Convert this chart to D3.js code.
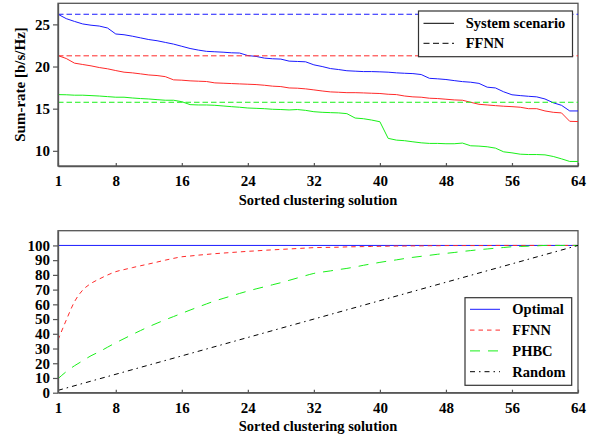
<!DOCTYPE html>
<html>
<head>
<meta charset="utf-8">
<script src="https://cdn.jsdelivr.net/npm/d3@7"></script>
<style>
html,body{margin:0;padding:0;background:#fff;}
svg text{font-family:"Liberation Serif","Times New Roman",serif;font-weight:bold;fill:#000;}
</style>
</head>
<body>
<svg id="chart" width="594" height="435"></svg>
<script>
// ---------- data ----------
const xTicks = [1, 8, 16, 24, 32, 40, 48, 56, 64];
const topYTicks = [10, 15, 20, 25];
const botYTicks = [0, 10, 20, 30, 40, 50, 60, 70, 80, 90, 100];

// Top panel: sum-rate per sorted clustering solution (index 1..64)
const optimalRate = [26.2,25.68,25.35,25.05,24.9,24.8,24.57,23.86,23.77,23.6,23.4,23.2,23.06,22.86,22.66,22.4,
  22.14,21.95,21.8,21.75,21.7,21.63,21.6,21.3,21.2,21.0,20.92,20.88,20.64,20.6,20.56,20.2,
  20.0,19.76,19.64,19.5,19.45,19.4,19.4,19.37,19.33,19.25,19.2,19.16,19.05,18.6,18.54,18.46,
  18.33,18.21,18.14,18.0,17.55,17.46,17.0,16.65,16.55,16.47,16.4,16.15,15.7,15.4,14.73,14.73];
const mediumRate = [21.3,20.95,20.4,20.24,20.08,19.88,19.73,19.52,19.33,19.25,19.13,19.0,18.93,18.8,18.42,18.38,
  18.3,18.26,18.22,18.06,18.02,17.98,17.94,17.9,17.86,17.78,17.67,17.62,17.46,17.43,17.35,17.23,
  17.1,16.99,16.95,16.9,16.9,16.87,16.83,16.8,16.71,16.67,16.5,16.4,16.36,16.24,16.2,16.12,
  16.04,16.0,15.76,15.52,15.44,15.36,15.29,15.24,15.17,15.0,15.0,14.73,14.57,14.5,13.5,13.47];
const lowRate = [16.67,16.65,16.6,16.6,16.55,16.5,16.43,16.36,16.36,16.27,16.2,16.15,16.07,16.0,16.0,15.83,
  15.48,15.44,15.44,15.4,15.32,15.24,15.17,15.08,15.04,15.0,14.93,14.9,14.85,14.9,14.8,14.64,
  14.57,14.53,14.5,14.41,13.89,13.81,13.65,13.45,11.48,11.27,11.2,11.07,10.95,10.88,10.88,10.84,
  10.84,10.92,10.6,10.56,10.48,10.32,9.88,9.76,9.6,9.56,9.56,9.52,9.33,9.05,8.74,8.74];
const ffnnRates = [26.2, 21.27, 15.76];   // blue, red, green FFNN levels

// Bottom panel: cumulative percentage
const optimalPct = [[1, 100], [64, 100]];
const ffnnPct = [35.8,49.3,61.8,69.7,74.2,77.2,79.9,82.2,83.6,84.9,86.2,87.4,88.7,90.0,91.2,92.3,
  92.8,93.4,93.9,94.4,94.8,95.2,95.6,96.0,96.3,96.7,97.0,97.3,97.6,97.9,98.2,98.5,
  98.6,98.7,98.8,99.0,99.1,99.2,99.3,99.4,99.5,99.6,99.6,99.7,99.7,99.8,99.8,99.9,
  99.9,99.9,99.9,99.9,99.9,100,100,100,100,100,100,100,100,100,100,100];
const phbcPct = [9.5,14.3,18.3,21.7,25.1,27.8,30.9,33.9,36.7,39.5,42.2,44.8,47.2,49.5,51.7,53.9,
  56.1,58.2,60.3,62.3,64.0,65.7,67.4,69.0,70.5,71.9,73.3,74.7,76.3,77.9,79.5,81.0,
  81.9,82.7,83.6,84.4,85.4,86.5,87.5,88.5,89.4,90.2,91.1,91.9,92.6,93.3,94.0,94.6,
  95.2,95.9,96.5,97.1,97.6,98.1,98.6,99.1,99.3,99.5,99.7,100,100,100,100,100];
const randomPct = [[1, 1.6], [16, 25], [32, 50], [48, 75], [64, 100]];

const topLegend = ["System scenario", "FFNN"];
const botLegend = ["Optimal", "FFNN", "PHBC", "Random"];

// ---------- drawing ----------
const svg = d3.select("#chart");
const X0 = 58, X1 = 578;
const x = d3.scaleLinear().domain([1, 64]).range([X0, X1]);
const yTop = d3.scaleLinear().domain([8.2, 27.5]).range([166, 3.3]);
const yBot = d3.scaleLinear().domain([0, 110]).range([392.7, 230.7]);

const BLUE = "#1a1aff", RED = "#ff2a2a", GREEN = "#19f019";
const frameCol = "#555";

function frame(y) {
  const [b, t] = y.range();
  svg.append("rect").attr("x", X0).attr("y", t).attr("width", X1 - X0).attr("height", b - t)
    .attr("fill", "none").attr("stroke", frameCol).attr("stroke-width", 1.3);
}
function axes(y, yticks) {
  const [b] = y.range();
  const gx = svg.append("g").attr("transform", `translate(0,${b})`)
    .call(d3.axisBottom(x).tickValues(xTicks).tickSizeInner(-3).tickSizeOuter(0).tickPadding(9.5));
  const gy = svg.append("g").attr("transform", `translate(${X0},0)`)
    .call(d3.axisLeft(y).tickValues(yticks).tickSizeInner(5).tickSizeOuter(0).tickPadding(3));
  [gx, gy].forEach(g => {
    g.select(".domain").attr("stroke", frameCol).attr("stroke-width", 1.3);
    g.selectAll(".tick line").attr("stroke", frameCol).attr("stroke-width", 1.2);
    g.selectAll("text").attr("font-family", "Liberation Serif").attr("font-weight", "bold")
      .attr("font-size", 15).attr("fill", "#000");
  });
}
const lineIdx = y => d3.line().x((d, i) => x(i + 1)).y(d => y(d));
const linePts = y => d3.line().x(d => x(d[0])).y(d => y(d[1]));

// ----- top panel -----
frame(yTop);
[[optimalRate, BLUE], [mediumRate, RED], [lowRate, GREEN]].forEach(([arr, c]) => {
  svg.append("path").attr("d", lineIdx(yTop)(arr)).attr("fill", "none")
    .attr("stroke", c).attr("stroke-width", 1);
});
[BLUE, RED, GREEN].forEach((c, i) => {
  svg.append("path").attr("d", linePts(yTop)([[1, ffnnRates[i]], [64, ffnnRates[i]]]))
    .attr("fill", "none").attr("stroke", c).attr("stroke-width", 1).attr("stroke-dasharray", "5.5,3");
});
axes(yTop, topYTicks);

svg.append("text").attr("transform", "translate(25,84.5) rotate(-90)").attr("text-anchor", "middle")
  .attr("font-size", 15).text("Sum-rate [b/s/Hz]");
svg.append("text").attr("x", 318).attr("y", 204.5).attr("text-anchor", "middle")
  .attr("font-size", 14.5).text("Sorted clustering solution");

// top legend
const lg1 = svg.append("g");
lg1.append("rect").attr("x", 418.5).attr("y", 11).attr("width", 154).attr("height", 45.7)
  .attr("fill", "#fff").attr("stroke", "#333").attr("stroke-width", 1.2);
const topDash = [null, "6,3.5"];
topLegend.forEach((t, i) => {
  const yy = 23.3 + i * 20;
  lg1.append("line").attr("x1", 423.5).attr("x2", 454).attr("y1", yy).attr("y2", yy)
    .attr("stroke", "#000").attr("stroke-width", 1).attr("stroke-dasharray", topDash[i]);
  lg1.append("text").attr("x", 465.7).attr("y", yy + 5).attr("font-size", 14.5).text(t);
});

// ----- bottom panel -----
frame(yBot);
const botStyles = [
  { c: BLUE, dash: null },
  { c: RED, dash: "4.5,4" },
  { c: GREEN, dash: "10,8" },
  { c: "#000", dash: "5,4,1.5,4" }
];
svg.append("path").attr("d", linePts(yBot)(optimalPct)).attr("fill", "none")
  .attr("stroke", botStyles[0].c).attr("stroke-width", 1);
svg.append("path").attr("d", lineIdx(yBot).curve(d3.curveMonotoneX)(ffnnPct)).attr("fill", "none")
  .attr("stroke", botStyles[1].c).attr("stroke-width", 1).attr("stroke-dasharray", botStyles[1].dash);
svg.append("path").attr("d", lineIdx(yBot).curve(d3.curveMonotoneX)(phbcPct)).attr("fill", "none")
  .attr("stroke", botStyles[2].c).attr("stroke-width", 1).attr("stroke-dasharray", botStyles[2].dash);
svg.append("path").attr("d", linePts(yBot)(randomPct)).attr("fill", "none")
  .attr("stroke", botStyles[3].c).attr("stroke-width", 1).attr("stroke-dasharray", botStyles[3].dash);
axes(yBot, botYTicks);

svg.append("text").attr("x", 318).attr("y", 431).attr("text-anchor", "middle")
  .attr("font-size", 14.5).text("Sorted clustering solution");

// bottom legend
const lg2 = svg.append("g");
lg2.append("rect").attr("x", 465).attr("y", 297.7).attr("width", 106.7).attr("height", 87.6)
  .attr("fill", "#fff").attr("stroke", "#333").attr("stroke-width", 1.2);
botLegend.forEach((t, i) => {
  const yy = 309.3 + i * 20.8;
  lg2.append("line").attr("x1", 470).attr("x2", 500).attr("y1", yy).attr("y2", yy)
    .attr("stroke", botStyles[i].c).attr("stroke-width", 1).attr("stroke-dasharray", botStyles[i].dash);
  lg2.append("text").attr("x", 512.3).attr("y", yy + 5).attr("font-size", 14.5).text(t);
});
</script>
</body>
</html>
